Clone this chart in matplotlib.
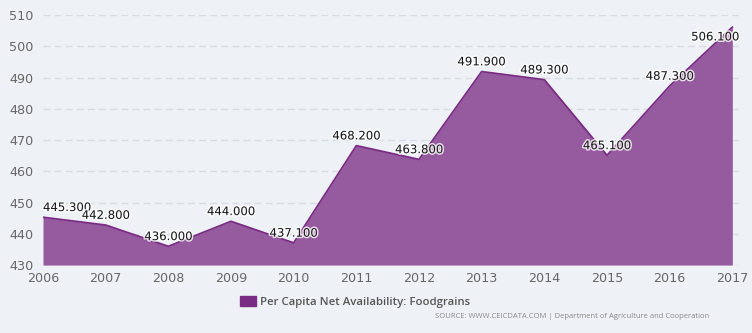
import matplotlib
matplotlib.use("Agg")
import matplotlib.pyplot as plt
import matplotlib.patheffects as pe
from matplotlib.patches import Patch

years = [2006, 2007, 2008, 2009, 2010, 2011, 2012, 2013, 2014, 2015, 2016, 2017]
values = [445.3, 442.8, 436.0, 444.0, 437.1, 468.2, 463.8, 491.9, 489.3, 465.1, 487.3, 506.1]
yticks = [430, 440, 450, 460, 470, 480, 490, 500, 510]
series_name = "Per Capita Net Availability: Foodgrains"
source = "SOURCE: WWW.CEICDATA.COM | Department of Agriculture and Cooperation"

bg = "#eef2f7"
fig = plt.figure(figsize=(7.52, 3.33), dpi=100, facecolor=bg)
ax = fig.add_axes([0.0572, 0.204, 0.9258, 0.751])
ax.set_facecolor(bg)

ax.fill_between(years, values, 430, color="#955b9e", lw=0, zorder=2)
ax.plot(years, values, color="#7a2c84", lw=1.3, zorder=3)

ax.set_xlim(2006, 2017.11)
ax.set_ylim(430, 510)
ax.set_yticks(yticks)
ax.set_xticks(years)
ax.grid(axis="y", color="#d9dde3", ls=(0, (5, 3)), lw=1, zorder=1)
for s in ax.spines.values():
    s.set_visible(False)
ax.tick_params(axis="both", length=0, colors="#666666", labelsize=9.2)
ax.tick_params(axis="y", pad=7)
ax.tick_params(axis="x", pad=5)

for i, (x, v) in enumerate(zip(years, values)):
    dx, dy, ha = 0, 7, "center"
    if i == 0:
        ha = "left"
    if i == len(years) - 1:
        dx, dy, ha = 5, -7, "right"
    t = ax.annotate(f"{v:.3f}", (x, v), xytext=(dx, dy), textcoords="offset points",
                    ha=ha, va="center", fontsize=8.4, color="#1a1a1a", zorder=5)
    t.set_path_effects([pe.withStroke(linewidth=2.2, foreground="white", alpha=0.8)])

leg = fig.legend(handles=[Patch(color="#7a2c84", label=series_name)],
                 loc="center left", bbox_to_anchor=(0.306, 0.093), frameon=False,
                 prop={"family": "Open Sans", "weight": "semibold", "size": 8.2},
                 handlelength=1.4, handleheight=0.9, handletextpad=0.3)
for t in leg.get_texts():
    t.set_color("#555555")

fig.text(0.943, 0.05, source, ha="right", va="center", fontsize=5.5,
         family="Open Sans", color="#888888")

fig.savefig("out.png", dpi=100, facecolor=bg)
